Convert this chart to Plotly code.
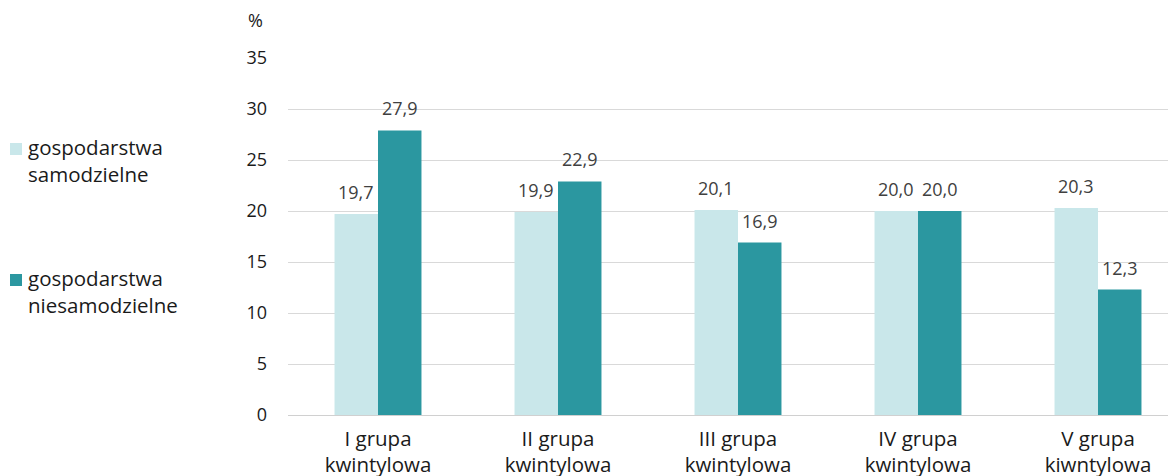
import plotly.graph_objects as go

categories = ["I grupa<br>kwintylowa", "II grupa<br>kwintylowa", "III grupa<br>kwintylowa",
              "IV grupa<br>kwintylowa", "V grupa<br>kiwntylowa"]
series_names = ["gospodarstwa<br>samodzielne", "gospodarstwa<br>niesamodzielne"]
samodzielne = [19.7, 19.9, 20.1, 20.0, 20.3]
niesamodzielne = [27.9, 22.9, 16.9, 20.0, 12.3]
y_ticks = [0, 5, 10, 15, 20, 25, 30, 35]

OFF = 8  # page body margin
ML, MR, MT, MB = 288 - OFF, 0, 58 - OFF, 61
PW = 900
W, H = ML + PW + MR, 476 - OFF
PH = H - MT - MB

LIGHT = "#C9E7EA"
DARK = "#2B97A0"
FONT = "Open Sans"

def px_x(px):
    return (px - OFF - ML) / PW

def px_y(py):
    return (H - MB - (py - OFF)) / PH

fig = go.Figure()
fig.add_trace(go.Bar(x=categories, y=samodzielne, name=series_names[0],
                     marker=dict(color=LIGHT, line=dict(width=0)), showlegend=False))
fig.add_trace(go.Bar(x=categories, y=niesamodzielne, name=series_names[1],
                     marker=dict(color=DARK, line=dict(width=0)), showlegend=False))

bargap = 0.517
bar_w = PW / len(categories) * (1 - bargap) / 2

annotations = []
for vals, sh in ((samodzielne, -bar_w / 2), (niesamodzielne, bar_w / 2)):
    for c, v in zip(categories, vals):
        annotations.append(dict(x=c, y=v, xref="x", yref="y", text=f"{v:.1f}".replace(".", ","),
                                showarrow=False, yanchor="bottom", xanchor="center",
                                xshift=sh, yshift=8,
                                font=dict(family=FONT, size=18, color="#404040")))

# percent unit label
annotations.append(dict(x=px_x(255), y=px_y(20), xref="paper", yref="paper", text="%",
                        showarrow=False, xanchor="center", yanchor="middle",
                        font=dict(family=FONT, size=18, color="#1a1a1a")))

# legend (manual)
shapes = []
for name, color, ytop in ((series_names[0], LIGHT, 143), (series_names[1], DARK, 274)):
    shapes.append(dict(type="rect", xref="paper", yref="paper",
                       x0=px_x(10), x1=px_x(22), y0=px_y(ytop), y1=px_y(ytop + 12),
                       fillcolor=color, line=dict(width=0)))
    annotations.append(dict(x=px_x(26), y=px_y(ytop - 12), xref="paper", yref="paper",
                            text=name, showarrow=False, xanchor="left", yanchor="top",
                            align="left",
                            font=dict(family=FONT, size=20.5, color="#1a1a1a")))

fig.update_layout(
    width=W, height=H,
    margin=dict(l=ML, r=MR, t=MT, b=MB, pad=0),
    paper_bgcolor="white", plot_bgcolor="white",
    bargap=bargap, bargroupgap=0, barmode="group",
    separators=", ",
    font=dict(family=FONT, size=18, color="#1a1a1a"),
    annotations=annotations, shapes=shapes,
    showlegend=False,
)
fig.update_yaxes(range=[0, 35], tickvals=y_ticks, showgrid=True, gridcolor="#D9D9D9",
                 gridwidth=1, zeroline=True, zerolinecolor="#D0D0D0", zerolinewidth=1,
                 showline=False, ticks="", ticklabelstandoff=20, automargin=False,
                 tickfont=dict(family=FONT, size=18, color="#1a1a1a"))
fig.update_xaxes(showline=False, ticks="", showgrid=False, ticklabelstandoff=9,
                 automargin=False,
                 tickfont=dict(family=FONT, size=20.5, color="#1a1a1a"))

fig.write_html("out.html")
